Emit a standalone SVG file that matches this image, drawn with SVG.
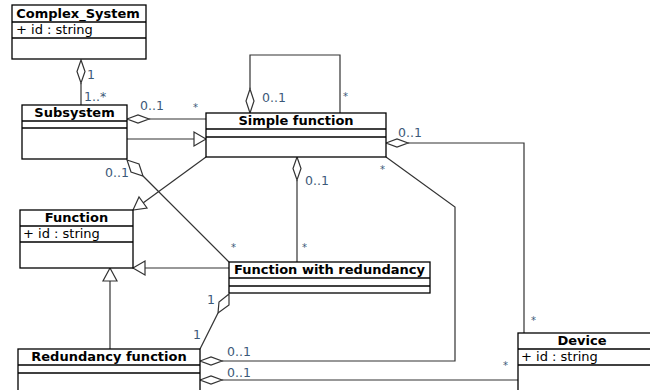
<svg xmlns="http://www.w3.org/2000/svg" width="650" height="390" viewBox="0 0 650 390">
<defs>
<style>
.box{fill:#fff;stroke:#000;stroke-width:1.3}
.sep{stroke:#000;stroke-width:1.3}
.t{font-family:"DejaVu Sans",sans-serif;font-size:13px;font-weight:bold;text-anchor:middle;fill:#000}
.a{font-family:"DejaVu Sans",sans-serif;font-size:13px;fill:#000}
.m{font-family:"DejaVu Sans",sans-serif;font-size:12.5px;fill:#3c5878}
.s{font-family:"DejaVu Sans",sans-serif;font-size:10px;fill:#3c5878}
.c{fill:none;stroke:#333;stroke-width:1.2}
.dm{fill:#fff;stroke:#333;stroke-width:1.2}
</style>
</defs>
<rect width="650" height="390" fill="#fff"/>
<g id="connectors">
<line class="c" x1="81" y1="83" x2="81" y2="105"/>
<polygon class="dm" points="81,60 85,71.5 81,83 77,71.5"/>
<line class="c" x1="149" y1="119" x2="206" y2="119"/>
<polygon class="dm" points="127,119 138,115 149,119 138,123"/>
<line class="c" x1="127" y1="139" x2="194" y2="139"/>
<polygon class="dm" points="206,139 194,132 194,146"/>
<polyline class="c" points="250,89 250,55 340,55 340,113"/>
<polygon class="dm" points="250,113 246,101 250,89 254,101"/>
<line class="c" x1="206" y1="157" x2="143" y2="203"/>
<polygon class="dm" points="133,210 139,197 147,208"/>
<line class="c" x1="143" y1="176" x2="229" y2="262"/>
<polygon class="dm" points="127,160 139,164 143,176 131,172"/>
<line class="c" x1="297" y1="180" x2="297" y2="262"/>
<polygon class="dm" points="297,157 301,168.5 297,180 293,168.5"/>
<line class="c" x1="229" y1="268" x2="145" y2="268"/>
<polygon class="dm" points="133,268 145,261 145,275"/>
<line class="c" x1="110" y1="349" x2="110" y2="281"/>
<polygon class="dm" points="110,268 117,281 103,281"/>
<polyline class="c" points="218,313 200,349"/>
<polygon class="dm" points="229,294 229,305 218,313 219,302"/>
<polyline class="c" points="386,157 455,207 455,361 222,361"/>
<polygon class="dm" points="200,361 211,357 222,361 211,365"/>
<polyline class="c" points="408,143 524,143 524,333"/>
<polygon class="dm" points="386,143 397,139 408,143 397,147"/>
<line class="c" x1="222" y1="380" x2="518" y2="380"/>
<polygon class="dm" points="200,380 211,376 222,380 211,384"/>
</g>
<g id="labels">
<text class="m" x="87" y="79">1</text>
<text class="m" x="84" y="101">1..*</text>
<text class="m" x="140" y="110">0..1</text>
<text class="s" x="193" y="111">*</text>
<text class="m" x="262" y="102">0..1</text>
<text class="s" x="343" y="100">*</text>
<text class="m" x="105" y="177">0..1</text>
<text class="s" x="231" y="251">*</text>
<text class="m" x="305" y="185">0..1</text>
<text class="s" x="302" y="251">*</text>
<text class="m" x="207" y="304">1</text>
<text class="m" x="193" y="339">1</text>
<text class="m" x="227" y="356">0..1</text>
<text class="m" x="227" y="377">0..1</text>
<text class="s" x="380" y="173">*</text>
<text class="m" x="398" y="137">0..1</text>
<text class="s" x="531" y="324">*</text>
<text class="s" x="503" y="369">*</text>
</g>
<g id="Complex_System">
<rect class="box" x="12" y="5" width="134" height="54"/>
<line class="sep" x1="12" y1="22" x2="146" y2="22"/>
<line class="sep" x1="12" y1="38" x2="146" y2="38"/>
<text class="t" x="78" y="18">Complex_System</text>
<text class="a" x="16" y="34">+ id : string</text>
</g>
<g id="Subsystem">
<rect class="box" x="22" y="105" width="105" height="54"/>
<line class="sep" x1="22" y1="121" x2="127" y2="121"/>
<line class="sep" x1="22" y1="128" x2="127" y2="128"/>
<text class="t" x="74.5" y="117">Subsystem</text>
</g>
<g id="Simple_function">
<rect class="box" x="206" y="113" width="180" height="44"/>
<line class="sep" x1="206" y1="129" x2="386" y2="129"/>
<line class="sep" x1="206" y1="137" x2="386" y2="137"/>
<text class="t" x="296" y="125">Simple function</text>
</g>
<g id="Function">
<rect class="box" x="20" y="210" width="113" height="58"/>
<line class="sep" x1="20" y1="226" x2="133" y2="226"/>
<line class="sep" x1="20" y1="242" x2="133" y2="242"/>
<text class="t" x="76.5" y="222">Function</text>
<text class="a" x="23" y="238">+ id : string</text>
</g>
<g id="Function_with_redundancy">
<rect class="box" x="229" y="262" width="201" height="31"/>
<line class="sep" x1="229" y1="278" x2="430" y2="278"/>
<line class="sep" x1="229" y1="286" x2="430" y2="286"/>
<text class="t" x="329.5" y="274">Function with redundancy</text>
</g>
<g id="Redundancy_function">
<rect class="box" x="18" y="349" width="182" height="60"/>
<line class="sep" x1="18" y1="365" x2="200" y2="365"/>
<line class="sep" x1="18" y1="373" x2="200" y2="373"/>
<text class="t" x="109" y="361">Redundancy function</text>
</g>
<g id="Device">
<rect class="box" x="518" y="333" width="200" height="70"/>
<line class="sep" x1="518" y1="349" x2="718" y2="349"/>
<line class="sep" x1="518" y1="365" x2="718" y2="365"/>
<text class="t" x="582" y="345">Device</text>
<text class="a" x="521" y="361">+ id : string</text>
</g>
</svg>
